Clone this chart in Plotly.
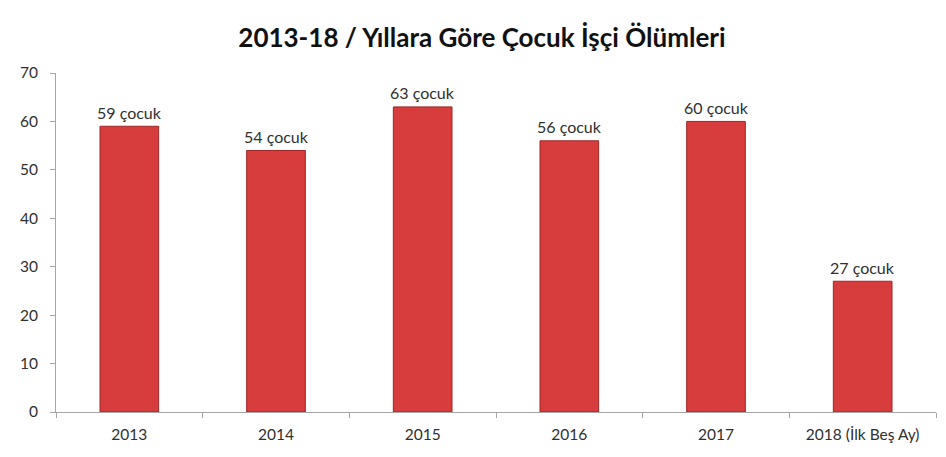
import plotly.graph_objects as go

categories = ["2013", "2014", "2015", "2016", "2017", "2018 (İlk Beş Ay)"]
values = [59, 54, 63, 56, 60, 27]
labels = ["59 çocuk", "54 çocuk", "63 çocuk", "56 çocuk", "60 çocuk", "27 çocuk"]
y_ticks = [0, 10, 20, 30, 40, 50, 60, 70]

fig = go.Figure()
fig.add_trace(go.Bar(
    x=categories, y=values,
    marker=dict(color="#d63d3c", line=dict(color="#9e2626", width=1)),
    cliponaxis=False,
))

# category axis positions are indices of the categories
for i, (v, t) in enumerate(zip(values, labels)):
    fig.add_annotation(x=i, y=v, text=t, showarrow=False, yanchor="middle", yshift=14,
                       font=dict(family="Lato", size=16, color="#303030"))

fig.update_layout(
    width=946, height=457,
    margin=dict(l=45, r=18, t=65, b=53),
    paper_bgcolor="white", plot_bgcolor="white",
    bargap=0.6,
    showlegend=False,
    title=dict(text="<b>2013-18 / Yıllara Göre Çocuk İşçi Ölümleri</b>",
               x=0.501, xanchor="center", y=0.934, yanchor="middle",
               font=dict(family="Lato", size=26, color="#111111")),
    font=dict(family="Lato", size=15, color="#404040"),
)
fig.update_xaxes(
    type="category", categoryorder="array", categoryarray=categories,
    range=[-0.5, len(categories) - 0.5],
    showline=True, linecolor="#a6a6a6", linewidth=1,
    ticks="outside", tickson="boundaries", ticklen=5, tickcolor="#a6a6a6",
    ticklabelstandoff=8, tickangle=0,
    tickfont=dict(family="Lato", size=15.5, color="#303030"),
    showgrid=False,
)
fig.update_yaxes(
    range=[0, 70], tickvals=y_ticks,
    showline=True, linecolor="#a6a6a6", linewidth=1,
    ticks="outside", ticklen=5, tickcolor="#a6a6a6",
    ticklabelstandoff=9,
    tickfont=dict(family="Lato", size=15.5, color="#303030"),
    showgrid=False, zeroline=False,
)

fig.write_html("out.html")
